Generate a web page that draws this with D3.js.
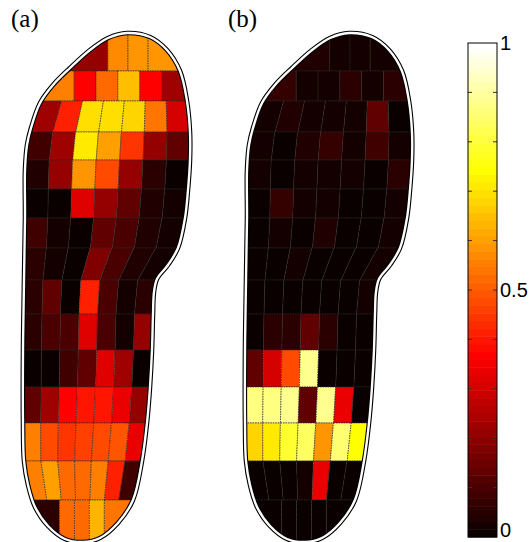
<!DOCTYPE html>
<html lang="en">
<head>
<meta charset="utf-8"/>
<title>Plantar pressure maps</title>
<script src="https://d3js.org/d3.v7.min.js"></script>
<style>
  body { margin: 0; background: #fff; }
  .cell { stroke: #2b2b2b; stroke-width: 0.7; stroke-dasharray: 1.5 1; }
</style>
</head>
<body>
<div id="chart"></div>
<script>
// cells per sensor row (top of foot -> heel)
var rowCounts = [4, 6, 7, 7, 7, 7, 7, 7, 7, 7, 7, 7, 7, 7, 5];

// normalised pressure, panel (a)
var pressureA = [
  [0.20, 0.57, 0.59, 0.59],
  [0.556, 0.36, 0.52, 0.65, 0.36, 0.22],
  [0.22, 0.41, 0.70, 0.70, 0.68, 0.54, 0.295],
  [0.08, 0.22, 0.72, 0.60, 0.45, 0.20, 0.13],
  [0.03, 0.20, 0.59, 0.47, 0.20, 0.055, 0.00],
  [0.00, 0.00, 0.32, 0.20, 0.13, 0.03, 0.01],
  [0.08, 0.01, 0.00, 0.13, 0.10, 0.03, 0.01],
  [0.055, 0.01, 0.00, 0.175, 0.10, 0.03, 0.01],
  [0.055, 0.13, 0.00, 0.41, 0.10, 0.02, 0.055],
  [0.055, 0.10, 0.10, 0.32, 0.10, 0.01, 0.20],
  [0.00, 0.00, 0.08, 0.13, 0.32, 0.22, 0.00],
  [0.13, 0.22, 0.365, 0.39, 0.39, 0.34, 0.20],
  [0.556, 0.47, 0.45, 0.46, 0.47, 0.49, 0.34],
  [0.56, 0.61, 0.52, 0.52, 0.55, 0.41, 0.08],
  [0.055, 0.52, 0.52, 0.64, 0.54]
];

// normalised pressure, panel (b)
var pressureB = [
  [0.03, 0.02, 0.01, 0.02],
  [0.06, 0.02, 0.01, 0.055, 0.01, 0.055],
  [0.01, 0.03, 0.02, 0.02, 0.01, 0.13, 0.00],
  [0.02, 0.00, 0.03, 0.06, 0.01, 0.08, 0.02],
  [0.01, 0.00, 0.02, 0.02, 0.02, 0.00, 0.04],
  [0.00, 0.07, 0.01, 0.01, 0.00, 0.00, 0.01],
  [0.00, 0.01, 0.00, 0.03, 0.00, 0.00, 0.01],
  [0.00, 0.00, 0.01, 0.00, 0.00, 0.00, 0.01],
  [0.00, 0.00, 0.00, 0.00, 0.00, 0.00, 0.02],
  [0.00, 0.045, 0.055, 0.13, 0.055, 0.00, 0.00],
  [0.13, 0.295, 0.47, 0.89, 0.00, 0.00, 0.00],
  [0.87, 0.87, 0.89, 0.13, 0.89, 0.34, 0.00],
  [0.69, 0.72, 0.79, 0.84, 0.59, 0.86, 0.75],
  [0.00, 0.00, 0.00, 0.01, 0.33, 0.00, 0.00],
  [0.00, 0.00, 0.00, 0.00, 0.00]
];

var panelLabels = ["(a)", "(b)"];
var colorbarTicks = d3.range(0, 11).map(function(i) { return i / 10; });
var colorbarLabels = [0, 0.5, 1];

// ---- layout ----
var width = 532, height = 542;
var panelOffset = [0, 222];

// insole outline (panel-local px), clockwise from the toe
var outline = [
  [127,33],[150,37],[167,50],[180,71],[187,101],[190,132],[190,160],[188,190],
  [185,218],[178,248],[168,265],[157,279],[154,292],[153,314],[152,350],[150,387],
  [147,423],[142,461],[133,500],[118,523],[100,538],[83,542],
  [65,539],[48,526],[35,507],[28,485],[24,461],[23,423],[23,350],[24,280],
  [25,218],[25,170],[27,145],[31,128],[40,103],[53,85],[70,68],[90,50],[108,38]
];
var rowEdges = [33, 71, 101, 132, 160, 189, 218, 248, 280, 314, 350, 387, 423, 461, 500, 542];

var rowY = d3.scaleLinear().domain(d3.range(rowEdges.length)).range(rowEdges);

var rightSide = outline.slice(0, 22);
var leftSide = outline.slice(21).concat([outline[0]]).reverse();

function sideX(side, y) {
  for (var i = 0; i < side.length - 1; i++) {
    var a = side[i], b = side[i + 1];
    if (y >= a[1] && y <= b[1]) {
      return b[1] === a[1] ? a[0] : a[0] + (b[0] - a[0]) * (y - a[1]) / (b[1] - a[1]);
    }
  }
  return y < side[0][1] ? side[0][0] : side[side.length - 1][0];
}

// MATLAB hot(64)
function hot(v) {
  var n = 64, n1 = 24;
  var i = Math.max(0, Math.min(n - 1, Math.round(v * (n - 1))));
  var r = i < n1 ? (i + 1) / n1 : 1;
  var g = i < n1 ? 0 : (i < 2 * n1 ? (i - n1 + 1) / n1 : 1);
  var b = i < 2 * n1 ? 0 : (i - 2 * n1 + 1) / (n - 2 * n1);
  return d3.rgb(r * 255, g * 255, b * 255).toString();
}

function cellPolygon(r, j) {
  var n = rowCounts[r];
  var y0 = rowY(r), y1 = rowY(r + 1), ym = (y0 + y1) / 2;
  var ya = n === 7 ? y0 + 1 : ym, yb = n === 7 ? y1 - 1 : ym;
  var La = sideX(leftSide, ya), Ra = sideX(rightSide, ya);
  var Lb = sideX(leftSide, yb), Rb = sideX(rightSide, yb);
  var xa0 = La + j * (Ra - La) / n, xa1 = La + (j + 1) * (Ra - La) / n;
  var xb0 = Lb + j * (Rb - Lb) / n, xb1 = Lb + (j + 1) * (Rb - Lb) / n;
  if (j === 0) { xa0 -= 40; xb0 -= 40; }
  if (j === n - 1) { xa1 += 40; xb1 += 40; }
  return [[xa0, y0], [xa1, y0], [xb1, y1], [xb0, y1]];
}

var svg = d3.select("#chart").append("svg")
    .attr("width", width)
    .attr("height", height);

var outlinePath = d3.line().curve(d3.curveCatmullRomClosed.alpha(0.5));

svg.append("defs").append("clipPath")
    .attr("id", "foot-clip")
  .append("path")
    .attr("d", outlinePath(outline));

[pressureA, pressureB].forEach(function(data, p) {
  var g = svg.append("g")
      .attr("transform", "translate(" + panelOffset[p] + ",0)");

  var cells = [];
  data.forEach(function(row, r) {
    row.forEach(function(v, j) { cells.push({r: r, j: j, v: v}); });
  });

  g.append("g")
      .attr("clip-path", "url(#foot-clip)")
    .selectAll("path")
    .data(cells)
    .enter().append("path")
      .attr("class", "cell")
      .attr("d", function(d) { return "M" + cellPolygon(d.r, d.j).join("L") + "Z"; })
      .attr("fill", function(d) { return hot(d.v); });

  g.append("path")
      .attr("d", outlinePath(outline))
      .attr("fill", "none")
      .attr("stroke", "#000")
      .attr("stroke-width", 4.6);
  g.append("path")
      .attr("d", outlinePath(outline))
      .attr("fill", "none")
      .attr("stroke", "#fff")
      .attr("stroke-width", 2.4);

  g.append("text")
      .attr("font-family", "'Liberation Serif', 'Times New Roman', serif")
      .attr("font-size", 25)
      .attr("x", p === 0 ? 11 : 6)
      .attr("y", 27)
      .text(panelLabels[p]);
});

// ---- colorbar ----
var cbX = 468, cbW = 29;
var cbY = d3.scaleLinear().domain([0, 1]).range([537, 43]);
var levels = d3.range(64);

var cb = svg.append("g");
cb.selectAll("rect")
  .data(levels)
  .enter().append("rect")
    .attr("x", cbX)
    .attr("width", cbW)
    .attr("y", function(i) { return cbY((i + 1) / 64); })
    .attr("height", function(i) { return cbY(i / 64) - cbY((i + 1) / 64) + 0.5; })
    .attr("fill", function(i) { return hot(i / 63); });

cb.selectAll("line.tl")
  .data(colorbarTicks.slice(1, -1))
  .enter().append("line")
    .attr("x1", cbX).attr("x2", cbX + 4)
    .attr("y1", cbY).attr("y2", cbY)
    .attr("stroke", "#333").attr("stroke-width", 1);
cb.selectAll("line.tr")
  .data(colorbarTicks.slice(1, -1))
  .enter().append("line")
    .attr("x1", cbX + cbW - 4).attr("x2", cbX + cbW)
    .attr("y1", cbY).attr("y2", cbY)
    .attr("stroke", "#333").attr("stroke-width", 1);

cb.append("rect")
    .attr("x", cbX).attr("y", cbY(1))
    .attr("width", cbW).attr("height", cbY(0) - cbY(1))
    .attr("fill", "none").attr("stroke", "#000").attr("stroke-width", 1);

cb.selectAll("text")
  .data(colorbarLabels)
  .enter().append("text")
    .attr("font-family", "'Liberation Sans', Arial, sans-serif")
    .attr("font-size", 20)
    .attr("x", cbX + cbW + 3)
    .attr("y", function(d) { return d === 0 ? cbY(d) : cbY(d) + 7; })
    .text(function(d) { return d; });
</script>
</body>
</html>
